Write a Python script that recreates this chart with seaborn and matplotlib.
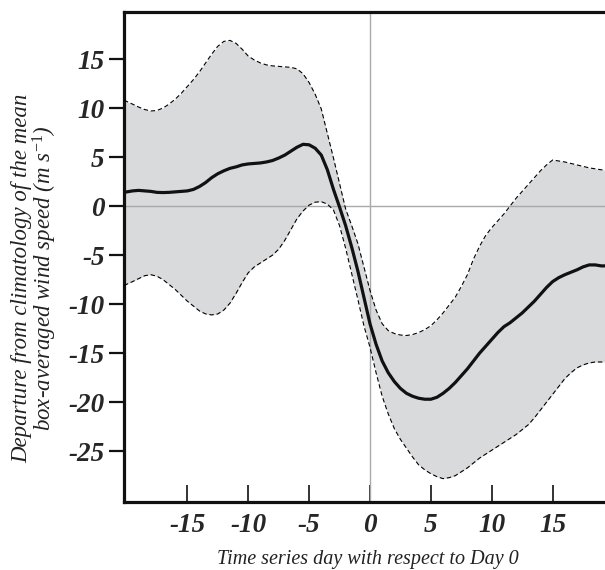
import numpy as np
import pandas as pd
import matplotlib
matplotlib.use("Agg")
import matplotlib.pyplot as plt
import seaborn as sns

# values (half-day steps)
days = [-20.2] + list(np.arange(-19.5, 19.51, 0.5))
mean_speed = [1.4, 1.55, 1.6, 1.55, 1.5, 1.4, 1.38, 1.4, 1.45, 1.5,
              1.55, 1.7, 2.0, 2.4, 2.9, 3.3, 3.6, 3.85, 4.0, 4.2,
              4.3, 4.35, 4.4, 4.5, 4.65, 4.9, 5.2, 5.6, 6.0, 6.3,
              6.25, 5.9, 5.2, 3.7, 1.7, -0.1, -2.0, -4.2, -6.6, -9.3,
              -12.0, -14.1, -15.8, -17.0, -17.9, -18.6, -19.1, -19.4, -19.6, -19.7,
              -19.7, -19.5, -19.1, -18.6, -18.0, -17.3, -16.6, -15.8, -15.0, -14.3,
              -13.6, -12.9, -12.3, -11.9, -11.4, -10.9, -10.3, -9.7, -9.0, -8.3,
              -7.7, -7.3, -7.0, -6.75, -6.5, -6.2, -6.0, -6.0, -6.1, -6.1]
upper = [10.8, 10.4, 10.1, 9.85, 9.7, 9.75, 10.0, 10.4, 10.9, 11.5,
         12.2, 12.9, 13.7, 14.6, 15.5, 16.3, 16.8, 16.9, 16.6, 16.0,
         15.3, 14.9, 14.6, 14.4, 14.3, 14.25, 14.2, 14.15, 14.0, 13.5,
         12.6, 11.4, 9.9, 7.4, 4.9, 2.3, -0.3, -2.0, -3.8, -6.2,
         -8.6, -10.6, -12.0, -12.7, -13.0, -13.15, -13.2, -13.1, -12.9, -12.6,
         -12.2, -11.6, -10.9, -10.1, -9.3, -8.2, -7.0, -5.4, -4.1, -3.0,
         -2.2, -1.5, -0.8, 0.0, 0.8, 1.5, 2.2, 2.9, 3.6, 4.2,
         4.7, 4.6, 4.5, 4.35, 4.2, 4.05, 3.9, 3.8, 3.7, 3.7]
lower = [-8.1, -7.7, -7.4, -7.1, -7.0, -7.15, -7.5, -8.0, -8.5, -9.1,
         -9.7, -10.2, -10.7, -11.0, -11.1, -11.0, -10.6, -9.9, -8.9, -7.8,
         -6.8, -6.2, -5.8, -5.4, -5.0, -4.4, -3.5, -2.4, -1.3, -0.5,
         0.1, 0.4, 0.45, 0.2, -0.4, -2.0, -4.3, -6.9, -9.5, -12.2,
         -14.4, -17.0, -19.4, -21.2, -22.7, -23.8, -24.7, -25.6, -26.4, -26.9,
         -27.3, -27.6, -27.8, -27.7, -27.5, -27.1, -26.7, -26.2, -25.7, -25.3,
         -24.9, -24.5, -24.1, -23.7, -23.3, -22.8, -22.3, -21.6, -20.8, -20.0,
         -19.2, -18.4, -17.6, -17.0, -16.5, -16.2, -16.0, -15.9, -15.9, -15.9]
xticks = [-15, -10, -5, 0, 5, 10, 15]
yticks = [15, 10, 5, 0, -5, -10, -15, -20, -25]

df = pd.DataFrame({"day": days, "mean": mean_speed, "upper": upper, "lower": lower})

sns.set_style("white")
plt.rcParams["font.family"] = ["Liberation Serif", "DejaVu Serif"]
plt.rcParams["axes.unicode_minus"] = False
plt.rcParams["mathtext.fontset"] = "custom"
plt.rcParams["mathtext.it"] = "Liberation Serif:italic"
plt.rcParams["mathtext.rm"] = "Liberation Serif"

fig = plt.figure(figsize=(6.05, 5.70), dpi=100)
ax = fig.add_axes([0.205, 0.119, 0.795, 0.860])

ax.fill_between(df["day"], df["lower"], df["upper"], color="#d9dadc", lw=0, zorder=1)
ax.axhline(0, color="#a9a9a9", lw=1.0, zorder=2)
ax.axvline(0, color="#a9a9a9", lw=1.0, zorder=2)
sns.lineplot(data=df, x="day", y="upper", ax=ax, color="black", lw=0.8,
             linestyle=(0, (4, 2.5)), zorder=3)
sns.lineplot(data=df, x="day", y="lower", ax=ax, color="black", lw=0.8,
             linestyle=(0, (4, 2.5)), zorder=3)
sns.lineplot(data=df, x="day", y="mean", ax=ax, color="#111111", lw=2.3, zorder=4)

ax.set_xlim(-20.2, 19.3)
ax.set_ylim(-30.2, 19.8)
ax.set_xticks(xticks)
ax.set_yticks(yticks)
ax.set_xticklabels([str(t) for t in xticks])
ax.set_yticklabels([str(t) for t in yticks])

for s in ["left", "top", "bottom"]:
    ax.spines[s].set_linewidth(2.3)
    ax.spines[s].set_color("#111111")
ax.spines["right"].set_visible(False)

ax.tick_params(axis="y", direction="out", length=11, width=1.6, pad=3, left=True,
               labelsize=19.5, color="#111111")
ax.tick_params(axis="x", direction="in", length=12, width=1.2, pad=8, bottom=True,
               labelsize=19.5, color="#111111")
for lab in ax.get_xticklabels() + ax.get_yticklabels():
    lab.set_fontweight("bold")
    lab.set_fontstyle("italic")

ax.set_xlabel("Time series day with respect to Day 0", fontsize=14.5, style="italic",
              color="#222222", va="baseline")
ax.xaxis.set_label_coords(0.507, -0.127)
ax.set_ylabel("Departure from climatology of the mean\n"
              "box-averaged wind speed ($m$ $s^{-1}$)", fontsize=16.5, style="italic",
              color="#222222", linespacing=0.95, va="center", ha="center")
ax.yaxis.set_label_coords(-0.185, 0.457)

fig.savefig("out.png", dpi=100)
